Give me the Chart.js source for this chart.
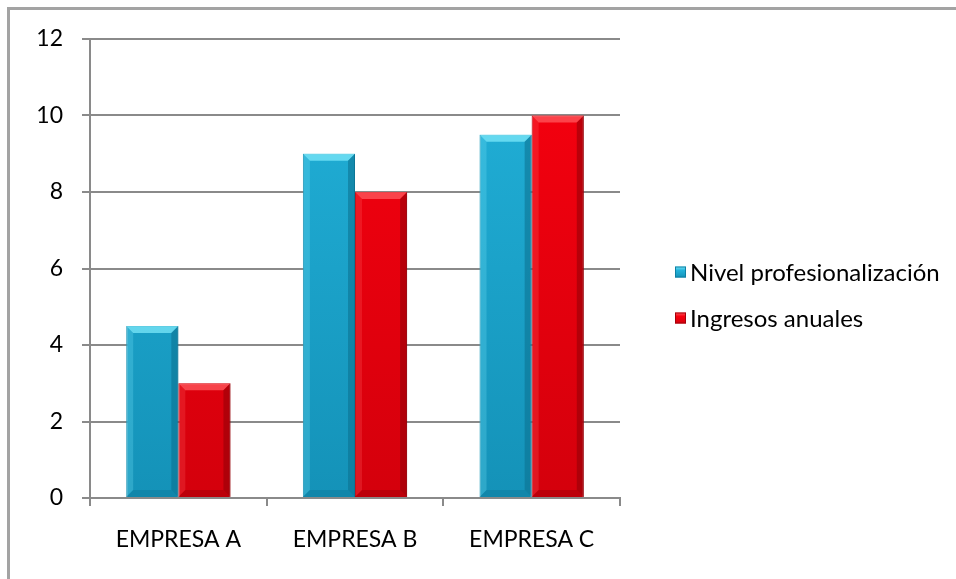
<!DOCTYPE html>
<html>
<head>
<meta charset="utf-8">
<script src="https://cdn.jsdelivr.net/npm/chart.js@4.4.1/dist/chart.umd.min.js"></script>
<style>
  html, body { margin: 0; padding: 0; background: #ffffff; overflow: hidden; }
  #wrap { position: relative; width: 956px; height: 579px; }
  #frame { position: absolute; left: 7px; top: 7px; width: 960px; height: 590px; border: 3px solid #a3a3a3; box-sizing: border-box; pointer-events: none; }
  canvas { position: absolute; left: 0; top: 0; }
</style>
</head>
<body>
<div id="wrap">
  <canvas id="c" width="956" height="579"></canvas>
  <div id="frame"></div>
</div>
<script>
// ---- data ----
const categories = ['EMPRESA A', 'EMPRESA B', 'EMPRESA C'];
const seriesNames = ['Nivel profesionalización', 'Ingresos anuales'];
const nivelValues = [4.5, 9, 9.5];
const ingresosValues = [3, 8, 10];
const yMin = 0, yMax = 12, yStep = 2;

// ---- styles ----
const FONT = 'Lato, "Open Sans", sans-serif';
const FONT_SIZE = 23;
const LEGEND_FONT_SIZE = 24;
const palettes = [
  { top: '#22b2da', bottom: '#1492b8', light: '#7ce8fa', dark: '#0b6f8e', border: '#0f7fa2' },
  { top: '#f8000f', bottom: '#d4000c', light: '#ff5a5f', dark: '#8e0008', border: '#a4000a' }
];

function bodyGradient(p) {
  return (ctx) => {
    const chart = ctx.chart;
    const ca = chart.chartArea;
    if (!ca) return p.top;
    const g = chart.ctx.createLinearGradient(0, ca.top, 0, ca.bottom);
    g.addColorStop(0, p.top);
    g.addColorStop(1, p.bottom);
    return g;
  };
}

const bevelPlugin = {
  id: 'bevel',
  afterDatasetsDraw(chart) {
    const ctx = chart.ctx;
    chart.data.datasets.forEach((ds, di) => {
      const meta = chart.getDatasetMeta(di);
      const p = palettes[di];
      meta.data.forEach((el) => {
        const { x, y, base, width } = el.getProps(['x', 'y', 'base', 'width'], true);
        const l = x - width / 2, r = x + width / 2, t = Math.min(y, base), b = Math.max(y, base);
        const s = Math.min(7, (b - t) / 2);
        ctx.save();
        ctx.globalAlpha = 0.75;
        ctx.fillStyle = p.light;
        ctx.beginPath(); ctx.moveTo(l, t); ctx.lineTo(r, t); ctx.lineTo(r - s, t + s); ctx.lineTo(l + s, t + s); ctx.closePath(); ctx.fill();
        ctx.globalAlpha = 0.25;
        ctx.beginPath(); ctx.moveTo(l, t); ctx.lineTo(l + s, t + s); ctx.lineTo(l + s, b - s); ctx.lineTo(l, b); ctx.closePath(); ctx.fill();
        ctx.globalAlpha = 0.55;
        ctx.fillStyle = p.dark;
        ctx.beginPath(); ctx.moveTo(r, t); ctx.lineTo(r, b); ctx.lineTo(r - s, b - s); ctx.lineTo(r - s, t + s); ctx.closePath(); ctx.fill();
        ctx.globalAlpha = 0.35;
        ctx.beginPath(); ctx.moveTo(l, b); ctx.lineTo(r, b); ctx.lineTo(r - s, b - s); ctx.lineTo(l + s, b - s); ctx.closePath(); ctx.fill();
        ctx.restore();
      });
    });
  }
};

const legendPlugin = {
  id: 'customLegend',
  afterDraw(chart) {
    const ctx = chart.ctx;
    const x0 = 675, rowY = [272, 318], box = 11;
    ctx.save();
    ctx.font = LEGEND_FONT_SIZE + 'px ' + FONT;
    ctx.textBaseline = 'middle';
    ctx.textAlign = 'left';
    chart.data.datasets.forEach((ds, i) => {
      const p = palettes[i];
      const y = rowY[i];
      const g = ctx.createLinearGradient(x0, y - box / 2, x0, y + box / 2);
      g.addColorStop(0, p.light);
      g.addColorStop(0.35, p.top);
      g.addColorStop(1, p.bottom);
      ctx.fillStyle = g;
      ctx.fillRect(x0, y - box / 2, box, box);
      ctx.strokeStyle = p.border;
      ctx.lineWidth = 1;
      ctx.strokeRect(x0 + 0.5, y - box / 2 + 0.5, box - 1, box - 1);
      ctx.fillStyle = '#000000';
      ctx.fillText(ds.label, x0 + box + 4, y + 1);
    });
    ctx.restore();
  }
};

const gridColor = '#8a8a8a';

new Chart(document.getElementById('c'), {
  type: 'bar',
  data: {
    labels: categories,
    datasets: [
      { label: seriesNames[0], data: nivelValues, backgroundColor: bodyGradient(palettes[0]), borderColor: palettes[0].border, borderWidth: 1 },
      { label: seriesNames[1], data: ingresosValues, backgroundColor: bodyGradient(palettes[1]), borderColor: palettes[1].border, borderWidth: 1 }
    ]
  },
  options: {
    responsive: false,
    animation: false,
    devicePixelRatio: 1,
    layout: { padding: { left: 0, top: 39, right: 336, bottom: 0 } },
    datasets: { bar: { categoryPercentage: 0.59, barPercentage: 1.0 } },
    plugins: {
      legend: { display: false },
      tooltip: { enabled: false },
      title: { display: false }
    },
    scales: {
      x: {
        offset: true,
        grid: { display: true, drawOnChartArea: false, drawTicks: true, tickLength: 8, color: gridColor, lineWidth: 2, offset: true },
        border: { display: true, color: gridColor, width: 2 },
        ticks: { color: '#000000', font: { family: FONT, size: FONT_SIZE }, padding: 20, maxRotation: 0 },
        afterFit(scale) { scale.height = 81; }
      },
      y: {
        min: yMin, max: yMax,
        grid: { color: gridColor, lineWidth: 2, tickLength: 8, drawTicks: true },
        border: { display: true, color: gridColor, width: 2 },
        ticks: { stepSize: yStep, color: '#000000', font: { family: FONT, size: FONT_SIZE }, padding: 19 },
        afterFit(scale) { scale.width = 90; }
      }
    }
  },
  plugins: [bevelPlugin, legendPlugin]
});
</script>
</body>
</html>
